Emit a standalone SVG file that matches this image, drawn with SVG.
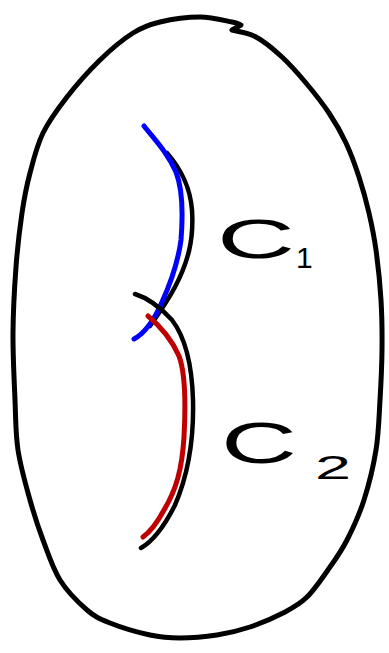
<svg xmlns="http://www.w3.org/2000/svg" width="389" height="653" viewBox="0 0 389 653">
<style>
.ink{fill:none;stroke:#000;stroke-width:4.5;stroke-linecap:round;stroke-linejoin:round}
.outer{fill:none;stroke:#000;stroke-width:5;stroke-linecap:round;stroke-linejoin:round}
.blue{fill:none;stroke:#0000ff;stroke-width:5;stroke-linecap:round;stroke-linejoin:round}
.red{fill:none;stroke:#c00000;stroke-width:5;stroke-linecap:round;stroke-linejoin:round}
.lbl{font-family:"Liberation Sans",Arial,sans-serif;fill:#000}
</style>
<rect width="389" height="653" fill="#fff"/>
<g id="region">
<path class="outer" d="M232,30 C240,32.3 247.7,32.5 256,37 C264.3,41.5 273.7,49.3 282,57 C290.3,64.7 298.2,73.7 306,83 C313.8,92.3 322.3,103 329,113 C335.7,123 341,132.3 346,143 C351,153.7 355.2,165.3 359,177 C362.8,188.7 366.2,200.8 369,213 C371.8,225.2 374,235.5 376,250 C378,264.5 380,283.3 381,300 C382,316.7 382.2,333.3 382,350 C381.8,366.7 381,383.3 380,400 C379,416.7 378.7,433.3 376,450 C373.3,466.7 368.8,485 364,500 C359.2,515 352.7,528.8 347,540 C341.3,551.2 336.7,557.5 330,567 C323.3,576.5 314.8,589.3 307,597 C299.2,604.7 292.5,608 283,613 C273.5,618 261,623.3 250,627 C239,630.7 228.7,633.2 217,635 C205.3,636.8 191.2,638 180,638 C168.8,638 161.7,637.5 150,635 C138.3,632.5 120.5,627.2 110,623 C99.5,618.8 95.3,617.2 87,610 C78.7,602.8 67.3,591.7 60,580 C52.7,568.3 48,553.3 43,540 C38,526.7 34.2,515 30,500 C25.8,485 20.5,466.7 18,450 C15.5,433.3 15.8,419.5 15,400 C14.2,380.5 12.8,355.2 13,333 C13.2,310.8 14.5,287 16,267 C17.5,247 19.7,228.7 22,213 C24.3,197.3 26.5,186.3 30,173 C33.5,159.7 36.8,145.7 43,133 C49.2,120.3 57.5,109.2 67,97 C76.5,84.8 89,70.7 100,60 C111,49.3 123,39.3 133,33 C143,26.7 148.8,24.7 160,22 C171.2,19.3 188,17 200,17 C212,17 225.2,20.7 232,22 C238.8,23.3 238,24 241,25 Z"/>
</g>
<g id="curves">
<path class="ink" d="M167,153 C180,168 190,185 192,210 C194,240 188,262 175,287 C168,300 160,312 150,326"/>
<path class="blue" d="M144,126 C155,140 167,152 176,172 C183,190 183,215 181,240 C178,262 172,280 162,302 C155,318 147,332 134,339"/>
<path class="ink" d="M135,294 C148,298 160,307 172,320 C185,337 192,365 193,400 C194,440 188,475 175,505 C165,525 155,540 141,548"/>
<path class="red" d="M148,316 C160,326 172,340 179,356 C185,372 186,400 184,437 C182,470 176,490 164,510 C157,523 150,532 143,537"/>
</g>
<g id="label-c1">
<text class="lbl" x="217" y="258" font-size="56" textLength="78" lengthAdjust="spacingAndGlyphs">C</text>
<text class="lbl" x="296" y="268" font-size="30">1</text>
</g>
<g id="label-c2">
<text class="lbl" x="221" y="463" font-size="58" textLength="76" lengthAdjust="spacingAndGlyphs">C</text>
<text class="lbl" x="315" y="479" font-size="33" textLength="36" lengthAdjust="spacingAndGlyphs">2</text>
</g>
</svg>
